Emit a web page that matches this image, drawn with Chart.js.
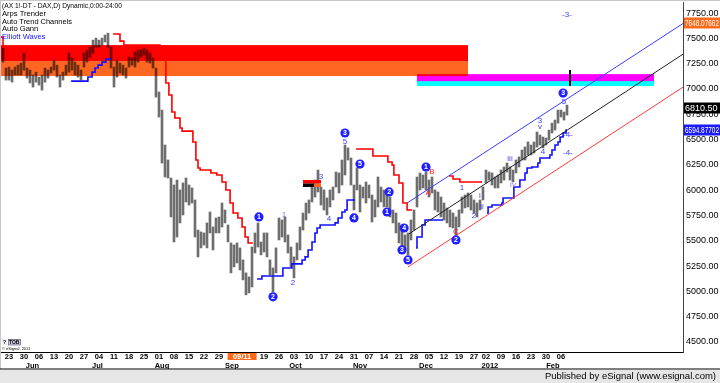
<!DOCTYPE html>
<html><head><meta charset="utf-8">
<script src="https://cdn.jsdelivr.net/npm/chart.js"></script>
<style>html,body{margin:0;padding:0;background:#fff;overflow:hidden}canvas{display:block}</style>
</head><body>
<canvas id="c" width="720" height="383"></canvas>
<script>
// ---------- DATA (trading-day index 0 = 23 May 2011) ----------
const dayStart = -2;
const highs = [
7414,7207,7217,7187,7217,7236,7256,7355,7207,7187,
7138,7167,7118,7138,7207,7187,7217,7286,7236,7138,
7167,7236,7355,7306,7266,7236,7187,7355,7385,7414,
7483,7503,7483,7503,7533,7552,7414,7217,7286,7256,
7236,7207,7315,7306,7365,7385,7385,7404,7385,7355,
7306,7207,6970,6792,6446,6298,6120,6051,6100,6002,
6071,6120,6051,6022,5903,5606,5587,5577,5676,5784,
5636,5725,5735,5873,5804,5656,5478,5458,5478,5429,
5310,5182,5142,5438,5577,5676,5488,5577,5577,5310,
5231,5429,5725,5705,5735,5557,5438,5340,5478,5636,
5774,5873,5903,6051,6100,6199,6031,6002,5923,6002,
6031,6179,6170,6298,6446,6417,6318,6051,6219,6051,
6031,6081,6051,5952,5903,6130,6031,6002,5972,5932,
5804,5774,5676,5606,5557,5577,5705,5804,6130,6170,
6150,6179,6100,6130,6002,5982,5932,5873,5824,5804,
5774,5735,5804,5932,5952,5972,5952,5903,5873,5903,
6031,6199,6179,6170,6130,6150,6199,6229,6268,6229,
6199,6298,6328,6397,6427,6476,6446,6476,6575,6545,
6525,6515,6594,6663,6693,6792,6792,6772,6841];
const lows = [
7266,7088,7088,7068,7138,7138,7138,7187,7108,7059,
7019,7068,7039,6989,7068,7108,7157,7187,7118,7019,
7088,7138,7167,7187,7138,7118,7088,7217,7266,7315,
7355,7414,7414,7434,7464,7414,7207,7019,7118,7157,
7138,7108,7217,7236,7217,7266,7315,7335,7266,7256,
7207,6920,6723,6268,6130,6120,5735,5488,5537,5676,
5755,5883,5853,5873,5537,5340,5429,5458,5429,5577,
5409,5577,5577,5636,5676,5488,5182,5241,5280,5211,
5113,4965,4984,5043,5379,5438,5360,5389,5340,5162,
4994,5182,5508,5537,5488,5379,5241,5132,5310,5409,
5606,5705,5774,5883,5932,5982,5853,5804,5755,5834,
5903,6031,5972,6051,6150,6298,6051,5804,6002,5784,
5923,5873,5923,5685,5735,5834,5883,5834,5834,5735,
5676,5577,5478,5438,5409,5360,5508,5606,5834,6002,
6022,6002,5932,5972,5804,5784,5735,5705,5676,5636,
5626,5557,5636,5774,5824,5834,5804,5774,5735,5804,
5903,6071,6100,6051,6022,6022,6071,6100,6179,6100,
6081,6170,6229,6298,6298,6348,6348,6367,6426,6446,
6417,6446,6496,6565,6594,6663,6723,6693,6742];

// Arps trender (resistance) steps: [day, level]
const redStepA = [[-3,7513],[-2,7414],[1,7414]];
const redStepB = [[34.7,7543],[37,7473],[38.3,7434],[50.3,7286],[52.3,7059],[53.3,6940],[54.3,6772],[55.3,6713],[57,6614],[57.7,6584],[61.3,6476],[62.3,6298],[63,6219],[63.7,6199],[67.3,6170],[69.3,6150],[71,6081],[72.3,6002],[73.7,5873],[74.7,5774],[76.3,5725],[77.7,5636],[78.7,5537],[79.7,5478],[81.3,5478]];
const redStepC = [[115.7,6407],[121.3,6337],[126.3,6278],[127.7,6249],[128.3,6150],[130,6071],[131.3,5873],[132.7,5804],[134.3,5804]];
const redStepD = [[146.7,6140],[148,6110],[150.3,6081],[157.7,6081]];
// Gann support steps
const blueStepA = [[20.7,7078],[26.3,7118],[27.7,7167],[28.7,7207],[29.7,7236],[31,7266],[32.3,7296],[34.3,7296]];
const blueStepB = [[82.7,5122],[84.3,5152],[91.3,5231],[94.3,5271],[97.7,5310],[98.7,5340],[99.7,5409],[101,5488],[102,5577],[102.7,5626],[103.7,5656],[108.7,5676],[109.7,5725],[111,5784],[112,5804],[112.7,5903],[115.3,5903]];
const blueStepC = [[135.7,5429],[136,5537],[137.7,5656],[138.7,5705],[144.7,5705]];
const blueStepD = [[159.3,5774],[159.7,5834],[161,5853],[164.3,5873],[164.7,5923],[168.3,6031],[170.3,6100],[172,6170],[172.7,6219],[174.3,6229],[176.3,6268],[177,6318],[180.3,6347],[181,6397],[182,6446],[183,6476],[183.7,6525],[184.7,6565],[185.7,6594],[186,6594]];
// trend channel
const chanUpper = [[132.7,5873],[224.7,7648]];
const chanMiddle = [[133.3,5567],[224.7,7345]];
const chanLower = [[133,5241],[224.7,7019]];
const markerLine = [[187,7187],[187,7029]];
// zones [fromDay, toDay, top, bottom]
const zones = [[-3,153,7434,7276],[-3,153,7276,7128],[136,215,7147,7078],[136,215,7078,7029]];
const gannBox = [[98,104,6100,6066],[98,101.7,6066,6031],[101.7,104,6066,6031]];
// Elliott wave labels [day, value, text, kind]
const waveLabels = [
 [83.3,5735,'1','c'],[88,4945,'2','c'],[112,6565,'3','c'],[115,5725,'4','c'],[117,6258,'5','c'],
 [126,5784,'1','c'],[126.7,5982,'2','c'],[131,5409,'3','c'],[131.7,5626,'4','c'],[133,5310,'5','c'],
 [139,6229,'1','c'],[149,5508,'2','c'],[184.7,6960,'3','c'],
 [91.7,5755,'1','p'],[94.7,5083,'2','b'],[104,6130,'3','b'],[106.7,5715,'4','b'],[112,6476,'5','b'],
 [139.7,5972,'A','r'],[141,6179,'B','r'],[149,5587,'C','r'],
 [151,6021,'1','b'],[155,5745,'2','b'],[157,5942,'i','b'],[157.7,5834,'ii','b'],[167,6308,'iii','b'],
 [168,6051,'iv','p'],[177,6683,'3','b'],[177,6624,'v','b'],[178,6377,'4','b'],[185,6871,'5','b'],
 [186.3,6545,'-4-','b'],[186.3,6367,'-4-','b'],[186,7730,'-3-','b']];
// axis
const yTicks = [4500,4750,5000,5250,5500,5750,6000,6250,6500,6750,7000,7250,7500,7750];
const weekTickDays = [0,5,10,15,20,25,30,35,40,45,50,55,60,65,70,85,90,95,100,105,110,115,120,125,130,135,140,145,150,155,159,164,169,174,179,184];
const weekTickLabels = ['23','30','06','13','20','27','04','11','18','25','01','08','15','22','29','19','26','03','10','17','24','31','07','14','21','28','05','12','19','27','02','09','16','23','30','06'];
const monthDays = [7.8,29.5,51,74.3,95.5,117,139,160.3,181.3];
const monthLabels = ['Jun','Jul','Aug','Sep','Oct','Nov','Dec','2012','Feb'];
const priceBoxes = [[7648.07662,'7648.07662'],[6810.50,'6810.50'],[6594.87702,'6594.87702']];
const cursorDay = 77.7, cursorLabel = '09/11';
const titleLines = ['(AX 1!-DT - DAX,D) Dynamic,0:00-24:00','Arps Trender','Auto Trend Channels','Auto Gann','Elliott Waves'];

// ---------- STYLES ----------
const zoneColors = ['#ff0000','#ff6622','#ff00ff','#00ffff'];
const gannColors = ['#ff0000','#000000','#ff6622'];
const boxColors = ['#ff6a1a','#000000','#1a1aff'];
const F = 'Liberation Sans, Arial, sans-serif';

const xy = a => a.map(p => ({x:p[0], y:p[1]}));
const bars = highs.map((h,k) => ({x: dayStart + k, y: [lows[k], h]}));
function lineDs(arr, color, w, stepped){
  return {type:'line', data: xy(arr), borderColor: color, borderWidth: w, stepped: stepped ? 'before' : false,
          pointRadius: 0, fill: false, tension: 0, order: 1};
}
function noPad(s){ s.paddingTop = 0; s.paddingBottom = 0; s.paddingLeft = 0; s.paddingRight = 0; }

const overlay = {
  id: 'overlay',
  beforeDraw(chart){
    const c = chart.ctx; c.save(); c.fillStyle = '#fff'; c.fillRect(0,0,chart.width,chart.height); c.restore();
  },
  afterDatasetDraw(chart, args){
    if (args.index !== 0) return;
    const {ctx, chartArea:a, scales:{x,y}} = chart;
    ctx.save();
    ctx.beginPath(); ctx.rect(a.left, a.top, a.right-a.left, a.bottom-a.top); ctx.clip();
    ctx.globalCompositeOperation = 'multiply';
    zones.forEach((z,k) => {
      const x0 = x.getPixelForValue(z[0]), x1 = x.getPixelForValue(z[1]);
      const y0 = y.getPixelForValue(z[2]), y1 = y.getPixelForValue(z[3]);
      ctx.fillStyle = zoneColors[k]; ctx.fillRect(x0, y0, x1-x0, y1-y0);
    });
    ctx.globalCompositeOperation = 'source-over';
    gannBox.forEach((z,k) => {
      const x0 = x.getPixelForValue(z[0]), x1 = x.getPixelForValue(z[1]);
      const y0 = y.getPixelForValue(z[2]), y1 = y.getPixelForValue(z[3]);
      ctx.fillStyle = gannColors[k]; ctx.fillRect(x0, y0, x1-x0, y1-y0);
    });
    ctx.restore();
  },
  afterDatasetsDraw(chart){
    const {ctx, chartArea:a, scales:{x,y}} = chart;
    ctx.save();
    ctx.beginPath(); ctx.rect(a.left, a.top, a.right-a.left, a.bottom-a.top); ctx.clip();
    ctx.textAlign = 'center'; ctx.textBaseline = 'middle';
    waveLabels.forEach(l => {
      const px = x.getPixelForValue(l[0]), py = y.getPixelForValue(l[1]);
      if (l[3] === 'c') {
        ctx.beginPath(); ctx.arc(px, py, 4.6, 0, Math.PI*2); ctx.fillStyle = '#1f1fff'; ctx.fill();
        ctx.fillStyle = '#fff'; ctx.font = 'bold 7px ' + F; ctx.fillText(l[2], px, py + 0.5);
      } else {
        ctx.fillStyle = l[3] === 'r' ? '#ff2020' : (l[3] === 'p' ? '#9a6cff' : '#3d3dff');
        ctx.font = '8px ' + F; ctx.fillText(l[2], px, py);
      }
    });
    ctx.restore();
  },
  afterDraw(chart){
    const {ctx, chartArea:a, scales:{x,y}} = chart;
    ctx.save();
    ctx.fillStyle = '#c8c8c8'; ctx.fillRect(0,0,720,1); ctx.fillRect(0,0,1,369);
    ctx.font = '7.6px ' + F; ctx.textAlign = 'left'; ctx.textBaseline = 'middle';
    titleLines.forEach((t,k) => { ctx.fillStyle = k === 4 ? '#1414ff' : '#000'; ctx.fillText(t, 2, 6 + k*7.8, k === 0 ? 120 : 70); });
    ctx.font = '9px ' + F;
    priceBoxes.forEach((b,k) => {
      const py = Math.round(y.getPixelForValue(b[0]));
      ctx.fillStyle = boxColors[k]; ctx.fillRect(a.right+1, py-5.5, 720-a.right-1, 11);
      ctx.fillStyle = '#fff'; ctx.fillText(b[1], a.right+2, py+0.5, 34);
    });
    const cx = x.getPixelForValue(cursorDay);
    ctx.fillStyle = '#ff6a1a'; ctx.fillRect(cx-14.5, 353, 29, 7);
    ctx.fillStyle = '#fff'; ctx.font = 'bold 7.5px ' + F; ctx.textAlign = 'center'; ctx.fillText(cursorLabel, cx, 356.8);
    ctx.fillStyle = '#000'; ctx.fillRect(0, 368.5, 720, 1);
    ctx.fillStyle = '#e6e6e6'; ctx.fillRect(0, 370, 720, 13);
    ctx.fillStyle = '#000'; ctx.font = '9.5px ' + F; ctx.textAlign = 'right';
    ctx.fillText('Published by eSignal (www.esignal.com)', 716, 376.8);
    ctx.fillStyle = '#eeeeee'; ctx.fillRect(2, 339, 5, 6); ctx.fillStyle = '#c9c9e6'; ctx.fillRect(8, 339, 13, 6);
    ctx.strokeStyle = '#555'; ctx.lineWidth = 0.6; ctx.strokeRect(8.5, 339.5, 12, 5.5);
    ctx.fillStyle = '#000'; ctx.font = 'bold 5px ' + F; ctx.textAlign = 'left';
    ctx.fillText('?', 3, 342.3); ctx.fillText('TOB', 9, 342.3);
    ctx.font = '4px ' + F; ctx.fillText('\u00a9 eSignal, 2011', 2, 349);
    ctx.restore();
  }
};

new Chart(document.getElementById('c'), {
  type: 'bar',
  data: { datasets: [
    {type:'bar', data: bars, backgroundColor: '#6e6e6e', barThickness: 2, grouped: false, order: 10},
    lineDs(chanUpper, '#3c3cff', 1, false),
    lineDs(chanMiddle, '#202020', 1, false),
    lineDs(chanLower, '#ff3a3a', 1, false),
    lineDs(redStepA, '#ff0000', 1.6, true),
    lineDs(redStepB, '#ff0000', 1.6, true),
    lineDs(redStepC, '#ff0000', 1.6, true),
    lineDs(redStepD, '#ff0000', 1.6, true),
    lineDs(blueStepA, '#1010ff', 1.6, true),
    lineDs(blueStepB, '#1010ff', 1.6, true),
    lineDs(blueStepC, '#1010ff', 1.6, true),
    lineDs(blueStepD, '#1010ff', 1.6, true),
    lineDs(markerLine, '#000000', 2, false)
  ]},
  options: {
    responsive: false, animation: false, devicePixelRatio: 1,
    layout: { padding: {top: 2, left: 0, right: 0, bottom: 14} },
    plugins: { legend: {display: false}, tooltip: {enabled: false} },
    scales: {
      x: { type: 'linear', position: 'bottom', min: -3, max: 224.67, offset: false, weight: 0,
           grid: {display: false, drawTicks: false}, border: {display: true, color: '#000'},
           afterBuildTicks: s => { s.ticks = weekTickDays.map(v => ({value: v})); },
           afterFit: s => { s.height = 9; noPad(s); },
           ticks: { autoSkip: false, maxRotation: 0, minRotation: 0, padding: 0, color: '#000',
                    font: {family: F, size: 7.5, weight: 'bold'},
                    callback: (v, i) => weekTickLabels[i] } },
      xm: { type: 'linear', position: 'bottom', min: -3, max: 224.67, offset: false, weight: 1,
           grid: {display: false, drawTicks: false}, border: {display: false},
           afterBuildTicks: s => { s.ticks = monthDays.map(v => ({value: v})); },
           afterFit: s => { s.height = 8; noPad(s); },
           ticks: { autoSkip: false, maxRotation: 0, minRotation: 0, padding: 0, color: '#000',
                    font: {family: F, size: 7.5, weight: 'bold'},
                    callback: (v, i) => monthLabels[i] } },
      y: { type: 'linear', position: 'right', min: 4400, max: 7860,
           grid: {display: false, drawTicks: false}, border: {display: true, color: '#444'},
           afterBuildTicks: s => { s.ticks = yTicks.map(v => ({value: v})); },
           afterFit: s => { s.width = 37; noPad(s); },
           ticks: { padding: 3, color: '#000', font: {family: F, size: 9},
                    callback: v => v.toFixed(2) } }
    }
  },
  plugins: [overlay]
});
</script>
</body></html>
